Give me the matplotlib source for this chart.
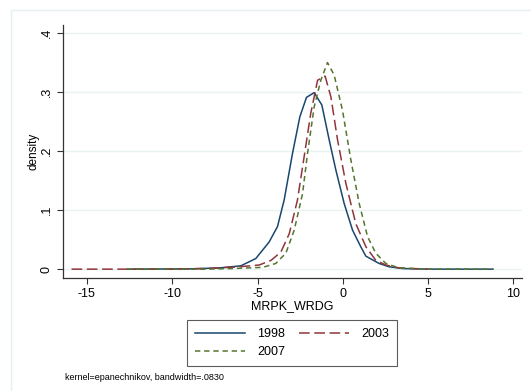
import matplotlib
matplotlib.use("Agg")
import matplotlib.pyplot as plt
from matplotlib.patches import Rectangle

plt.rcParams['font.family'] = ['Liberation Sans', 'DejaVu Sans']
plt.rcParams['axes.unicode_minus'] = False

# kernel density estimates
x_1998 = [-12.6, -9.0, -7.25, -5.98, -5.1, -4.32, -3.83, -3.44, -2.95, -2.52, -2.13, -1.68,
          -1.23, -0.8, -0.41, 0.08, 0.57, 1.05, 1.35, 2.13, 2.71, 3.5, 5.0, 8.8]
d_1998 = [0.0, 0.0005, 0.002, 0.0056, 0.018, 0.046, 0.072, 0.117, 0.196, 0.258, 0.291, 0.299,
          0.278, 0.219, 0.168, 0.111, 0.066, 0.038, 0.022, 0.0096, 0.004, 0.001, 0.0, 0.0]

x_2003 = [-15.9, -10.0, -8.1, -6.07, -4.9, -4.2, -3.63, -3.14, -2.66, -2.27, -1.88, -1.48,
          -1.04, -0.7, -0.31, 0.18, 0.76, 1.35, 1.93, 2.52, 3.3, 5.0]
d_2003 = [0.0, 0.0, 0.001, 0.004, 0.007, 0.015, 0.029, 0.06, 0.117, 0.19, 0.264, 0.32,
          0.327, 0.292, 0.219, 0.145, 0.077, 0.038, 0.015, 0.007, 0.002, 0.0]

x_2007 = [-12.66, -8.0, -6.5, -4.7, -3.93, -3.34, -2.85, -2.36, -2.07, -1.68, -1.29, -0.9,
          -0.51, -0.02, 0.47, 0.96, 1.45, 1.93, 2.52, 3.3, 5.0, 8.8]
d_2007 = [0.0, 0.0, 0.001, 0.003, 0.0096, 0.027, 0.066, 0.128, 0.196, 0.275, 0.32, 0.35,
          0.329, 0.269, 0.185, 0.111, 0.055, 0.027, 0.0096, 0.002, 0.0, 0.0]

x_ticks = [-15, -10, -5, 0, 5, 10]
y_ticks = [0, 0.1, 0.2, 0.3, 0.4]
y_labels = ['0', '.1', '.2', '.3', '.4']

fig = plt.figure(figsize=(5.31, 3.91), dpi=100)
fig.patches.append(Rectangle((11 / 531, -0.1), 1.2, (391 - 10) / 391 + 0.1,
                             transform=fig.transFigure, fill=False,
                             edgecolor='#e6eff2', linewidth=1.0))

ax = fig.add_axes([63 / 531, (391 - 278) / 391, (522 - 63) / 531, (278 - 25) / 391])
l1, = ax.plot(x_1998, d_1998, color='#1a476f', lw=1.1, label='1998')
l2, = ax.plot(x_2003, d_2003, color='#90353b', lw=1.1, dashes=(7, 3), label='2003')
l3, = ax.plot(x_2007, d_2007, color='#55752f', lw=1.1, dashes=(3.5, 2.5), label='2007')

ax.set_xlim(-16.4, 10.5)
ax.set_ylim(-0.015, 0.4136)
ax.set_xticks(x_ticks)
ax.set_yticks(y_ticks)
ax.set_yticklabels(y_labels, rotation=90, va='center')
ax.tick_params(labelsize=9, color='#333333', length=4)
ax.grid(axis='y', color='#eaf2f3', lw=1.0)
ax.set_axisbelow(True)
for s in ['top', 'right']:
    ax.spines[s].set_visible(False)
for s in ['left', 'bottom']:
    ax.spines[s].set_color('#333333')
    ax.spines[s].set_linewidth(0.9)

ax.set_xlabel('MRPK_WRDG', fontsize=9, labelpad=0)
ax.set_ylabel('density', fontsize=8.5, labelpad=1)

# column-major fill: 1998 / 2007 in first column, 2003 in second
leg = fig.legend([l1, l3, l2], ['1998', '2007', '2003'], loc='center',
                 bbox_to_anchor=(292 / 531, 1 - 343 / 391), ncol=2,
                 fontsize=9, handlelength=4.0, frameon=True, fancybox=False,
                 edgecolor='#333333', borderpad=0.6, columnspacing=1.1,
                 labelspacing=0.5, handletextpad=1.0)
leg.get_frame().set_linewidth(0.8)

fig.text(65 / 531, 1 - 377 / 391, 'kernel=epanechnikov, bandwidth=.0830',
         fontsize=6.5, va='center', ha='left')

fig.savefig('out.png', dpi=100)
